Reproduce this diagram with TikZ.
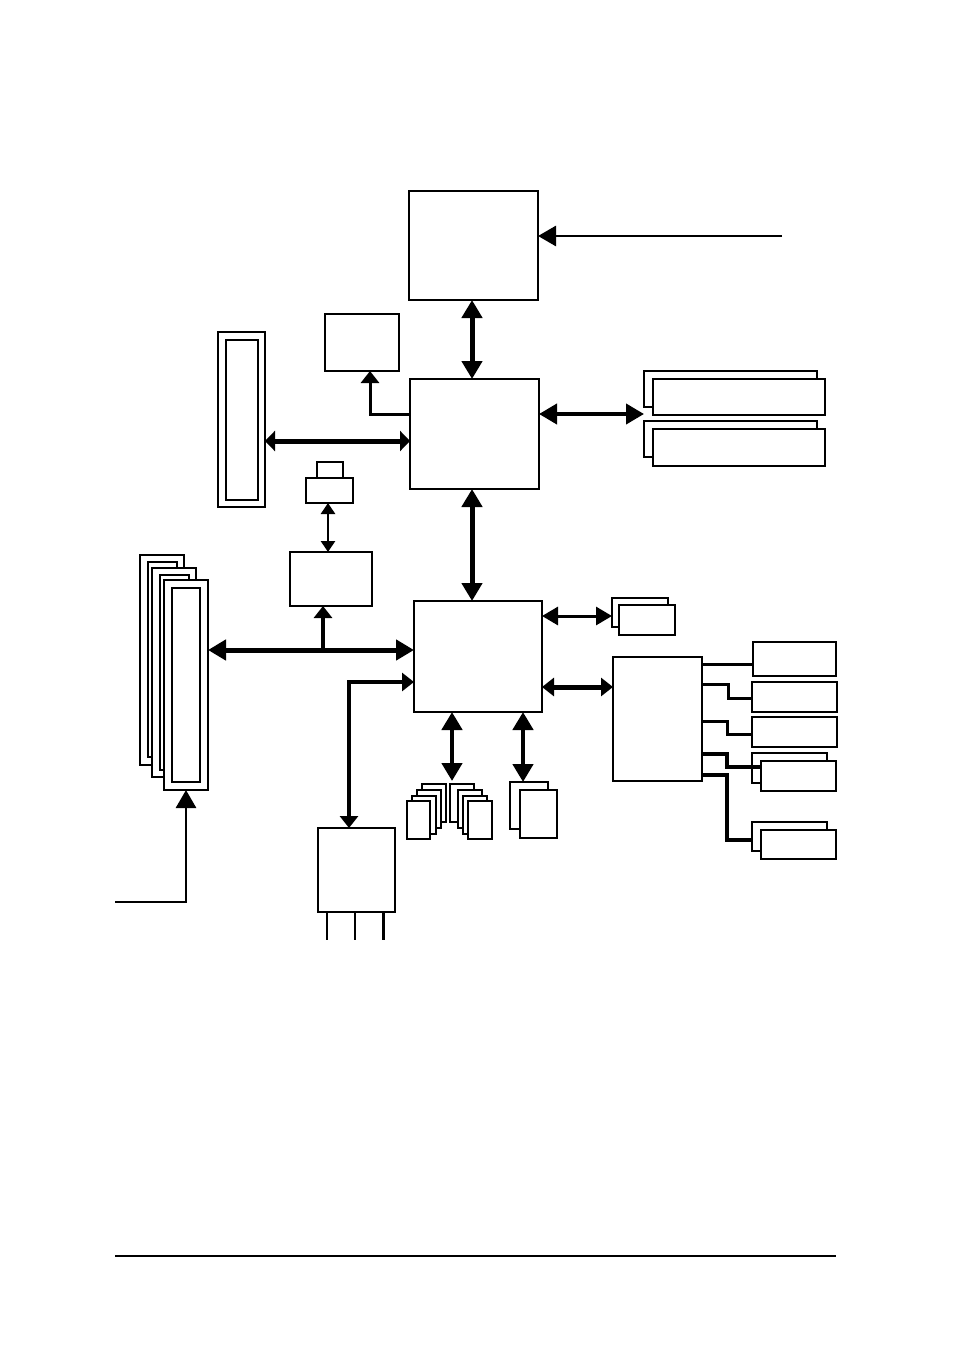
\documentclass[tikz,border=0pt]{standalone}
\usetikzlibrary{arrows.meta,fit}
\begin{document}
\begin{tikzpicture}[x=1pt,y=-1pt,
  box/.style={draw, line width=1.5pt, fill=white, inner sep=0pt, outer sep=0pt},
  chip/.style={box, line width=2.4pt},
  wire/.style={line width=3pt},
  tipL/.tip={Triangle[length=18pt,width=20pt]},
  tipM/.tip={Triangle[length=12pt,width=18pt]},
  tipS/.tip={Triangle[length=10pt,width=20pt]},
  tipT/.tip={Triangle[length=11pt,width=14pt]},
  tipU/.tip={Triangle[length=16pt,width=18pt]}]
\fill[white] (0,0) rectangle (954,1351);
\useasboundingbox (0,0) rectangle (954,1351);

% CPU
\node[chip, fit={(409,191)(538,300)}] (cpu) {};
\coordinate (ext) at (782,236);
\draw[line width=2.8pt, -{tipL}] (ext) -- (ext -| cpu.east);

% North bridge
\node[chip, fit={(410,379)(539,489)}] (nb) {};
\draw[line width=5pt, {tipL}-{tipL}] (cpu.south -| 472,0) -- (nb.north -| 472,0);

% small box above left
\node[box, fit={(325,314)(399,371)}] (agp) {};
\draw[line width=3pt, -{tipM}] (nb.west |- 0,414) -| (agp.south -| 370,0);

% tall slot
\node[box, line width=1.8pt, fit={(218,332)(265,507)}] (slot) {};
\node[box, fit={(226,340)(258,500)}] (slotin) {};
\draw[line width=5pt, {tipS}-{tipS}] (slot.east |- 0,441) -- (nb.west |- 0,441);

% clock component
\node[box, fit={(317,462)(343,478)}] (clktop) {};
\node[box, fit={(306,478)(353,503)}] (clk) {};
\node[box, fit={(290,552)(372,606)}] (hub) {};
\draw[line width=2.6pt, {tipT}-{tipT}] (clk.south -| 328,0) -- (hub.north -| 328,0);

% memory stack
\node[box, fit={(140,555)(184,765)}] (dimmA) {};
\node[box, fit={(148,562)(177,757)}] (dimmAin) {};
\node[box, fit={(152,568)(196,777)}] (dimmB) {};
\node[box, fit={(160,575)(189,770)}] (dimmBin) {};
\node[box, fit={(164,580)(208,790)}] (dimmC) {};
\node[box, fit={(172,588)(200,782)}] (dimmCin) {};

% South bridge
\node[chip, fit={(414,601)(542,712)}] (sb) {};
\draw[line width=5pt, {tipL}-{tipL}] (nb.south -| 472,0) -- (sb.north -| 472,0);
\draw[line width=5pt, {tipL}-{tipL}] (dimmC.east |- 0,650) -- (sb.west |- 0,650);
\coordinate (tap) at (323,650);
\draw[line width=4pt, -{tipM}] (tap) -- (hub.south -| tap);

% memory input
\coordinate (memin) at (115,902);
\draw[line width=2.8pt, -{tipL}] (memin) -| (dimmC.south);

% lower-left box
\node[box, fit={(318,828)(395,912)}] (lpc) {};
\draw[line width=2.6pt] (lpc.south west) -- (lpc.south east);
\draw[line width=4pt, {tipM}-{tipM}] (lpc.north -| 349,0) |- (sb.west |- 0,682);
\draw[line width=2.4pt] (lpc.south -| 327,0) -- ++(0,28);
\draw[line width=2.4pt] (lpc.south -| 355,0) -- ++(0,28);
\draw[line width=3pt] (lpc.south -| 383,0) -- ++(0,28);

% PCI slots
\node[box, fit={(644,371)(817,407)}] (pciA) {};
\node[box, fit={(653,379)(825,415)}] (pciB) {};
\node[box, fit={(644,421)(817,457)}] (pciC) {};
\node[box, fit={(653,429)(825,466)}] (pciD) {};
\draw[line width=4pt, {tipL}-{tipL}] (nb.east |- 0,414) -- (pciA.west |- 0,414);

% small stack right of SB
\node[box, fit={(612,598)(668,627)}] (usbA) {};
\node[box, fit={(619,605)(675,635)}] (usbB) {};
\draw[line width=3pt, {tipU}-{tipU}] (sb.east |- 0,616) -- (usbA.west |- 0,616);

% Super I/O
\node[box, fit={(613,657)(702,781)}] (sio) {};
\draw[line width=5pt, {tipM}-{tipM}] (sb.east |- 0,687) -- (sio.west |- 0,687);

\node[box, fit={(753,642)(836,676)}] (p1) {};
\node[box, fit={(752,682)(837,712)}] (p2) {};
\node[box, fit={(752,717)(837,747)}] (p3) {};
\node[box, fit={(752,753)(827,783)}] (p4a) {};
\node[box, fit={(761,761)(836,791)}] (p4b) {};
\node[box, fit={(752,822)(827,851)}] (p5a) {};
\node[box, fit={(761,830)(836,859)}] (p5b) {};
\draw[wire] (sio.east |- 0,664) -- (p1.west |- 0,664);
\draw[wire] (sio.east |- 0,684) -| (728,698) -- (p2.west |- 0,698);
\draw[wire] (sio.east |- 0,721) -| (727,734) -- (p3.west |- 0,734);
\draw[wire, line width=3.5pt] (sio.east |- 0,754) -| (727,767) -- (p4b.west |- 0,767);
\draw[wire, line width=3.5pt] (sio.east |- 0,775) -| (727,840) -- (p5a.west |- 0,840);

% bottom cards, left group
\node[box, fit={(422,784)(446,822)}] (cl1) {};
\node[box, fit={(417,790)(441,828)}] (cl2) {};
\node[box, fit={(412,796)(436,834)}] (cl3) {};
\node[box, fit={(407,801)(430,839)}] (cl4) {};
% right group
\node[box, fit={(450,784)(474,822)}] (cr1) {};
\node[box, fit={(458,790)(482,828)}] (cr2) {};
\node[box, fit={(463,796)(487,834)}] (cr3) {};
\node[box, fit={(468,801)(492,839)}] (cr4) {};
\coordinate (cardtop) at (452,781);
\draw[line width=4.5pt, {tipL}-{tipL}] (sb.south -| cardtop) -- (cardtop);

% pair
\node[box, fit={(510,782)(548,829)}] (bA) {};
\node[box, fit={(520,790)(557,838)}] (bB) {};
\draw[line width=4.5pt, {tipL}-{tipL}] (sb.south -| 523,0) -- (bA.north -| 523,0);

% bottom rule
\draw[line width=2.4pt] (115,1256) -- (836,1256);
\end{tikzpicture}
\end{document}
